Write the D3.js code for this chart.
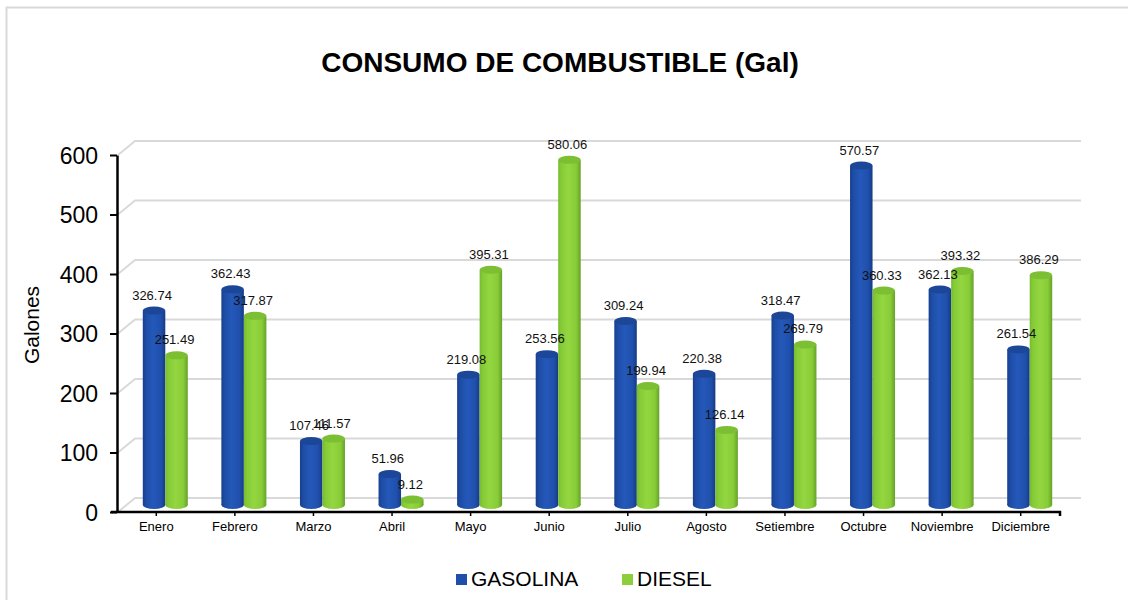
<!DOCTYPE html>
<html>
<head>
<meta charset="utf-8">
<script src="https://cdn.jsdelivr.net/npm/d3@7"></script>
<style>
  html, body { margin: 0; padding: 0; background: #fff; }
  svg { display: block; font-family: "Liberation Sans", Arial, sans-serif; }
</style>
</head>
<body>
<svg id="chart" width="1128" height="600"></svg>
<script>
const months = ["Enero","Febrero","Marzo","Abril","Mayo","Junio","Julio","Agosto","Setiembre","Octubre","Noviembre","Diciembre"];
const gasolina = [326.74, 362.43, 107.46, 51.96, 219.08, 253.56, 309.24, 220.38, 318.47, 570.57, 362.13, 261.54];
const diesel   = [251.49, 317.87, 111.57, 9.12, 395.31, 580.06, 199.94, 126.14, 269.79, 360.33, 393.32, 386.29];
const seriesNames = ["GASOLINA", "DIESEL"];
const yTicks = [0, 100, 200, 300, 400, 500, 600];
const chartTitle = "CONSUMO DE COMBUSTIBLE (Gal)";
const yTitle = "Galones";

const svg = d3.select("#chart");
const W = 1128, H = 600;
const pLeft = 117, pRight = 1060, pBottom = 512, pTop = 155;
const depthX = 18, depthY = -14;

// outer frame (top and left edges)
svg.append("line").attr("x1", 6.5).attr("y1", 7).attr("x2", 6.5).attr("y2", H).attr("stroke", "#d9d9d9").attr("stroke-width", 2);
svg.append("line").attr("x1", 6).attr("y1", 7.5).attr("x2", W).attr("y2", 7.5).attr("stroke", "#d9d9d9").attr("stroke-width", 2);

const x = d3.scaleBand().domain(months).range([pLeft, pRight]).padding(0);
const y = d3.scaleLinear().domain([0, 600]).range([pBottom, pTop]);
const yMid = d3.scaleLinear().domain([0, 600]).range([pBottom + depthY / 2, pTop + depthY / 2]);
const yBack = d3.scaleLinear().domain([0, 600]).range([pBottom + depthY, pTop + depthY]);

// gridlines (3D wall)
const grid = svg.append("g").attr("stroke", "#d9d9d9").attr("stroke-width", 2).attr("fill", "none");
yTicks.forEach(v => {
  grid.append("path").attr("d",
    `M${pLeft + 1},${y(v)} L${pLeft + depthX},${yBack(v)} L${pRight + depthX + 3},${yBack(v)}`);
});

// defs: gradients
const defs = svg.append("defs");
function cylGrad(id, stops) {
  const g = defs.append("linearGradient").attr("id", id).attr("x1", "0%").attr("x2", "100%").attr("y1", "0%").attr("y2", "0%");
  stops.forEach(s => g.append("stop").attr("offset", s[0]).attr("stop-color", s[1]));
}
cylGrad("gBlue", [["0%", "#173f8e"], ["15%", "#1e4da6"], ["45%", "#2458b9"], ["80%", "#2050ad"], ["100%", "#163b85"]]);
cylGrad("gGreen", [["0%", "#78bb30"], ["15%", "#86cc37"], ["45%", "#93d640"], ["80%", "#88cc38"], ["100%", "#66a228"]]);
const colors = { fill: ["url(#gBlue)", "url(#gGreen)"], cap: ["#1c4698", "#7cbf32"], legend: ["#1f4fa8", "#8ccf3a"] };

// bars
const barW = 22.5;
const ry = 4;
const data = months.map((m, i) => ({ m, vals: [gasolina[i], diesel[i]] }));
const bars = svg.append("g");
data.forEach(d => {
  const cx = x(d.m) + x.bandwidth() / 2 + depthX / 2;
  d.vals.forEach((v, s) => {
    const x0 = cx - barW + s * barW;
    const yt = yMid(v), yb = yMid(0);
    const g = bars.append("g");
    g.append("ellipse").attr("cx", x0 + barW / 2).attr("cy", yb).attr("rx", barW / 2).attr("ry", ry).attr("fill", colors.fill[s]);
    g.append("rect").attr("x", x0).attr("y", yt).attr("width", barW).attr("height", Math.max(0, yb - yt)).attr("fill", colors.fill[s]);
    g.append("ellipse").attr("cx", x0 + barW / 2).attr("cy", yt).attr("rx", barW / 2).attr("ry", ry).attr("fill", colors.cap[s]);
  });
});

// data labels
const labels = svg.append("g").attr("font-size", 13).attr("fill", "#111").attr("text-anchor", "middle");
data.forEach(d => {
  const cx = x(d.m) + x.bandwidth() / 2 + depthX / 2;
  d.vals.forEach((v, s) => {
    const bc = cx - barW / 2 + s * barW;
    labels.append("text").attr("x", bc - 2).attr("y", yMid(v) - 11).text(v.toFixed(2));
  });
});

// y axis
const yAxis = svg.append("g").attr("transform", `translate(${pLeft},0)`)
  .call(d3.axisLeft(y).tickValues(yTicks).tickSize(7).tickSizeOuter(0).tickPadding(12));
yAxis.select(".domain").attr("stroke", "#000").attr("stroke-width", 2.5);
yAxis.selectAll(".tick line").attr("stroke", "#000").attr("stroke-width", 2);
yAxis.selectAll(".tick text").attr("font-size", 23).attr("fill", "#000").attr("font-family", "Liberation Sans, Arial, sans-serif").attr("dy", "0.36em");

// x axis
const xAxis = svg.append("g").attr("transform", `translate(0,${pBottom})`)
  .call(d3.axisBottom(x).tickSize(4).tickSizeOuter(4).tickPadding(6));
xAxis.select(".domain").attr("stroke", "#000").attr("stroke-width", 2.5).attr("d", `M${pLeft - 6},0H${pRight}V4`);
xAxis.selectAll(".tick line").attr("stroke", "#000").attr("stroke-width", 1.5);
xAxis.selectAll(".tick text").attr("font-size", 13).attr("fill", "#000").attr("font-family", "Liberation Sans, Arial, sans-serif");

// titles
svg.append("text").attr("x", 560).attr("y", 72).attr("text-anchor", "middle")
  .attr("font-size", 28).attr("font-weight", "bold").attr("fill", "#000").text(chartTitle);
svg.append("text").attr("transform", "translate(39,325) rotate(-90)").attr("text-anchor", "middle")
  .attr("font-size", 21).attr("fill", "#000").text(yTitle);

// legend
const legendX = [456, 622];
seriesNames.forEach((n, s) => {
  svg.append("rect").attr("x", legendX[s]).attr("y", 574).attr("width", 11).attr("height", 11).attr("fill", colors.legend[s]);
  svg.append("text").attr("x", legendX[s] + 15).attr("y", 586).attr("font-size", 21).attr("fill", "#000").text(n);
});
</script>
</body>
</html>
